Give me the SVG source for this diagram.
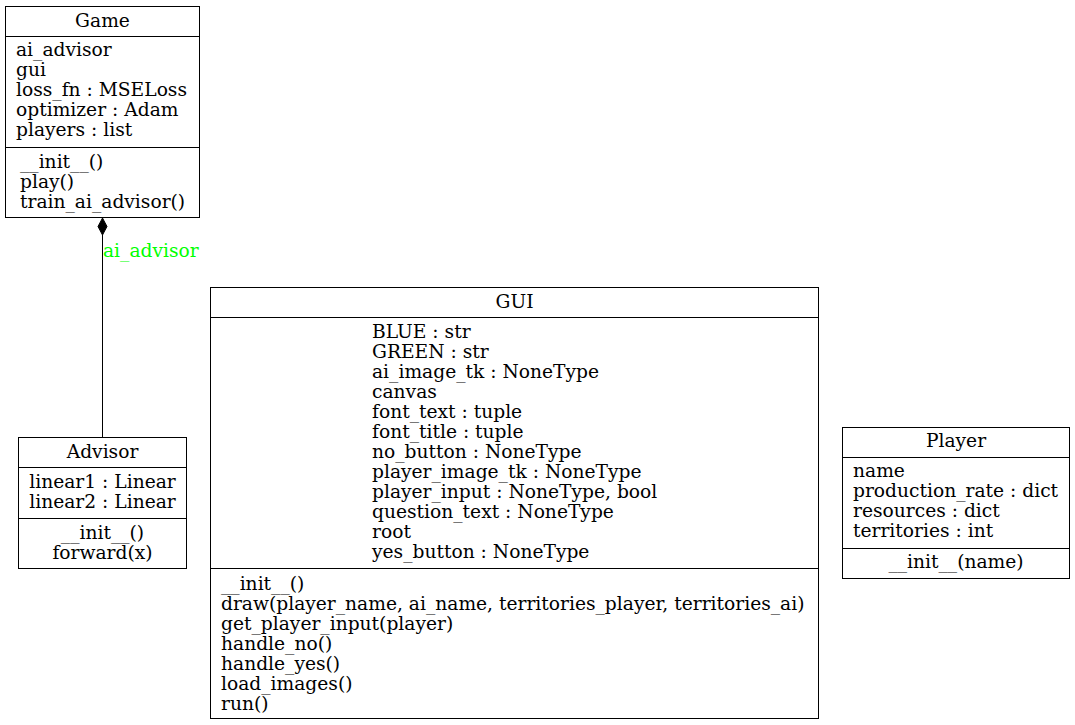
<svg xmlns="http://www.w3.org/2000/svg" width="1075" height="725" viewBox="0 0 1075 725">
<style>
text{font-family:"DejaVu Serif",serif;font-size:18.67px;fill:#000}
.c{text-anchor:middle}
.box{fill:#fff;stroke:#000;stroke-width:1}
.ln{stroke:#000;stroke-width:1;fill:none}
.lbl{fill:#00ff00}
</style>
<rect width="1075" height="725" fill="#fff"/>
<g id="Game">
<rect class="box" x="5.5" y="6.5" width="194" height="211"/>
<line class="ln" x1="5.5" y1="36.5" x2="199.5" y2="36.5"/>
<line class="ln" x1="5.5" y1="147.5" x2="199.5" y2="147.5"/>
<text class="c" x="102.5" y="27">Game</text>
<text x="16" y="56">ai_advisor</text>
<text x="16" y="76">gui</text>
<text x="16" y="96">loss_fn : MSELoss</text>
<text x="16" y="116">optimizer : Adam</text>
<text x="16" y="136">players : list</text>
<text x="20" y="168">__init__()</text>
<text x="20" y="188">play()</text>
<text x="20" y="208">train_ai_advisor()</text>
</g>
<g id="Advisor">
<rect class="box" x="18.5" y="437.5" width="168" height="131"/>
<line class="ln" x1="18.5" y1="467.5" x2="186.5" y2="467.5"/>
<line class="ln" x1="18.5" y1="518.5" x2="186.5" y2="518.5"/>
<text class="c" x="102.5" y="458">Advisor</text>
<text class="c" x="102.5" y="488">linear1 : Linear</text>
<text class="c" x="102.5" y="508">linear2 : Linear</text>
<text class="c" x="102.5" y="539">__init__()</text>
<text class="c" x="102.5" y="559">forward(x)</text>
</g>
<g id="GUI">
<rect class="box" x="210.5" y="287.5" width="608" height="431"/>
<line class="ln" x1="210.5" y1="317.5" x2="818.5" y2="317.5"/>
<line class="ln" x1="210.5" y1="568.5" x2="818.5" y2="568.5"/>
<text class="c" x="514.5" y="308">GUI</text>
<text x="372" y="338">BLUE : str</text>
<text x="372" y="358">GREEN : str</text>
<text x="372" y="378">ai_image_tk : NoneType</text>
<text x="372" y="398">canvas</text>
<text x="372" y="418">font_text : tuple</text>
<text x="372" y="438">font_title : tuple</text>
<text x="372" y="458">no_button : NoneType</text>
<text x="372" y="478">player_image_tk : NoneType</text>
<text x="372" y="498">player_input : NoneType, bool</text>
<text x="372" y="518">question_text : NoneType</text>
<text x="372" y="538">root</text>
<text x="372" y="558">yes_button : NoneType</text>
<text x="221" y="590">__init__()</text>
<text x="221" y="610">draw(player_name, ai_name, territories_player, territories_ai)</text>
<text x="221" y="630">get_player_input(player)</text>
<text x="221" y="650">handle_no()</text>
<text x="221" y="670">handle_yes()</text>
<text x="221" y="690">load_images()</text>
<text x="221" y="710">run()</text>
</g>
<g id="Player">
<rect class="box" x="842.5" y="427.5" width="227" height="151"/>
<line class="ln" x1="842.5" y1="457.5" x2="1069.5" y2="457.5"/>
<line class="ln" x1="842.5" y1="548.5" x2="1069.5" y2="548.5"/>
<text class="c" x="956" y="447">Player</text>
<text x="853" y="477">name</text>
<text x="853" y="497">production_rate : dict</text>
<text x="853" y="517">resources : dict</text>
<text x="853" y="537">territories : int</text>
<text class="c" x="956" y="568">__init__(name)</text>
</g>
<g id="connectors">
<line class="ln" x1="102.5" y1="235" x2="102.5" y2="437"/>
<polygon points="102.5,218 107,226.5 102.5,235 98,226.5" fill="#000" stroke="#000"/>
<text class="lbl" x="103" y="257">ai_advisor</text>
</g>
</svg>
